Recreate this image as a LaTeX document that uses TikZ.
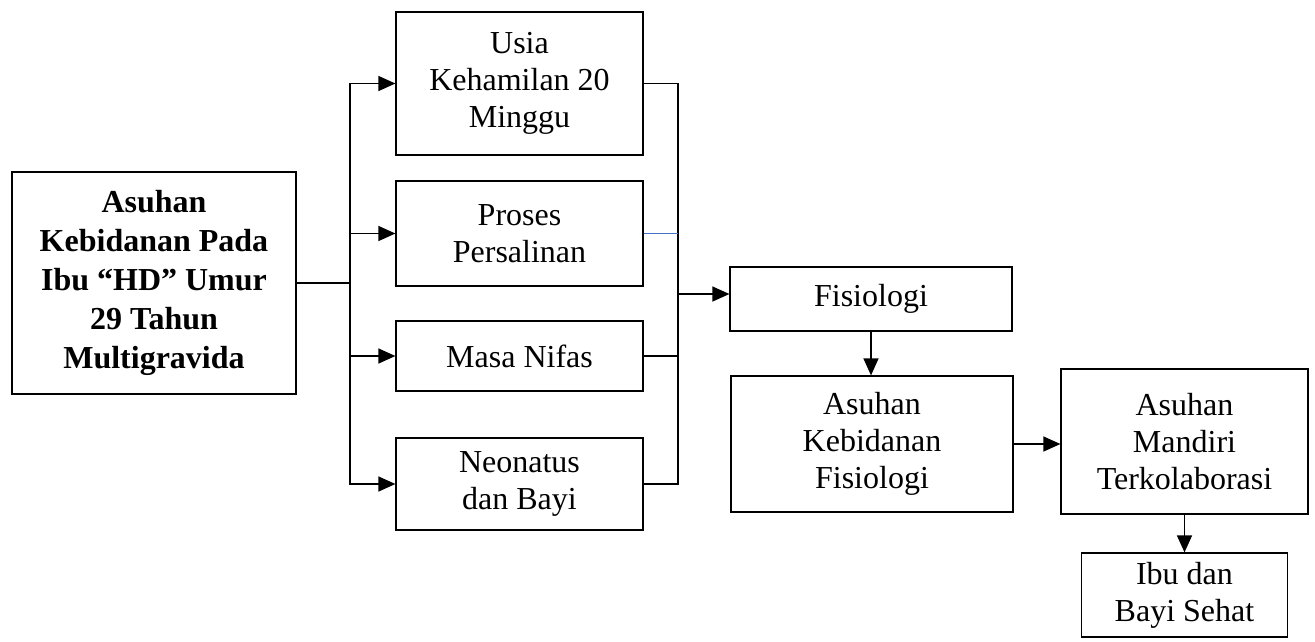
\documentclass[tikz,border=0pt]{standalone}
\usepackage{fontspec}
\setmainfont{Liberation Serif}
\usetikzlibrary{arrows.meta}
\definecolor{garisbiru}{RGB}{68,114,196}
\tikzset{
  kotak/.style={draw, line width=1.2pt, align=center, inner sep=0pt, font=\fontsize{32}{37}\selectfont},
  panah/.style={-{Triangle[length=17pt,width=15pt]}, line width=1.3pt},
  garis/.style={line width=1.3pt},
}
\begin{document}
\begin{tikzpicture}[x=1pt,y=-1pt]
        \useasboundingbox (0,0) rectangle (1315,641);
        % kotak
        \node[kotak, minimum width=284pt, minimum height=222pt, font=\fontsize{32}{39}\selectfont\bfseries] (utama) at (154,283) {Asuhan\\Kebidanan Pada\\Ibu “HD” Umur\\29 Tahun\\Multigravida};
        \node[kotak, minimum width=247pt, minimum height=143pt] (usia) at (519.5,83.5) {Usia\\Kehamilan 20\\Minggu};
        \node[kotak, minimum width=247pt, minimum height=105pt] (proses) at (519.5,233.5) {Proses\\Persalinan};
        \node[kotak, minimum width=247pt, minimum height=70pt] (nifas) at (519.5,356) {Masa Nifas};
        \node[kotak, minimum width=247pt, minimum height=92pt] (neo) at (519.5,484) {Neonatus\\dan Bayi};
        \node[kotak, minimum width=282pt, minimum height=64pt] (fis) at (871,299) {Fisiologi};
        \node[kotak, minimum width=282pt, minimum height=136pt] (akf) at (872,444) {Asuhan\\Kebidanan\\Fisiologi};
        \node[kotak, minimum width=247pt, minimum height=145pt] (mandiri) at (1184.5,441.5) {Asuhan\\Mandiri\\Terkolaborasi};
        \node[kotak, minimum width=206pt, minimum height=84pt] (sehat) at (1184.5,595) {Ibu dan\\Bayi Sehat};

        % cabang kiri
        \coordinate (pisah) at (350,283);
        \draw[garis] (utama.east) -- (pisah);
        \draw[panah] (pisah) |- (usia.west);
        \draw[panah] (pisah) |- (proses.west);
        \draw[panah] (pisah) |- (nifas.west);
        \draw[panah] (pisah) |- (neo.west);

        % cabang kanan
        \coordinate (gabung) at (678,294);
        \draw[garis] (usia.east) -| (gabung);
        \draw[garisbiru, line width=0.8pt] (proses.east) -- (proses.east -| gabung);
        \draw[garis] (nifas.east) -| (gabung);
        \draw[garis] (neo.east) -| (gabung);
        \draw[panah] (gabung) -- (gabung -| fis.west);

        \draw[panah] (fis.south) -- (fis.south |- akf.north);
        \draw[panah] (akf.east) -- (akf.east -| mandiri.west);
        \draw[panah] (mandiri.south) -- (sehat.north);
\end{tikzpicture}
\end{document}
